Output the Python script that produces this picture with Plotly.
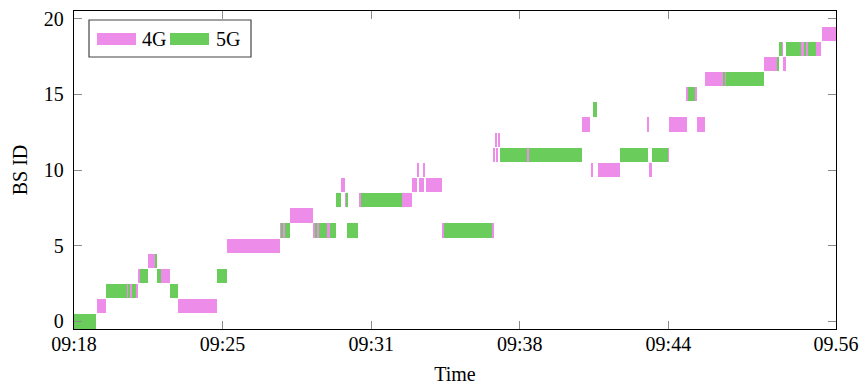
import plotly.graph_objects as go

# ---- data (time in seconds since 09:18, BS ID) ----
lte_bs    = [1, 2, 2, 2, 2, 3, 4, 3, 1, 5, 6, 6, 7, 6, 6, 6, 9, 8, 8, 8, 9, 10, 9, 10, 9, 6,
             6, 11, 12, 11, 12, 11, 13, 10, 10, 13, 10, 11, 13, 15, 15, 13, 16, 16, 17, 18, 17,
             18, 18, 18, 19]
lte_start = [60, 140, 148, 158, 164, 168, 193, 228, 273, 402, 541, 549, 568, 627, 638, 664, 701,
             712, 747, 860, 888, 901, 905, 918, 924, 966, 1098, 1102, 1106, 1110, 1114, 1190,
             1334, 1356, 1376, 1506, 1509, 1559, 1562, 1608, 1629, 1635, 1657, 1707, 1812, 1857,
             1861, 1909, 1922, 1948, 1962]
lte_end   = [83, 143, 151, 160, 168, 173, 215, 251, 376, 541, 545, 553, 626, 633, 643, 671, 712,
             714, 754, 886, 901, 904, 918, 922, 966, 971, 1102, 1106, 1110, 1113, 1118, 1194,
             1355, 1362, 1434, 1509, 1516, 1562, 1608, 1611, 1635, 1657, 1704, 1711, 1845, 1861,
             1869, 1915, 1926, 1961, 2000]

nr_bs    = [0, 2, 2, 2, 2, 3, 4, 3, 2, 3, 6, 6, 6, 6, 6, 8, 8, 6, 8, 6, 11, 11, 14, 11, 11, 15,
            16, 16, 17, 18, 18, 18, 18]
nr_start = [0, 83, 143, 151, 160, 173, 215, 219, 251, 376, 545, 553, 633, 643, 671, 688, 714,
            717, 754, 971, 1118, 1194, 1362, 1434, 1516, 1611, 1704, 1711, 1845, 1852, 1870,
            1915, 1926]
nr_end   = [59, 140, 148, 158, 164, 193, 219, 228, 273, 402, 549, 567, 638, 664, 687, 701, 717,
            746, 860, 1098, 1190, 1333, 1374, 1506, 1559, 1629, 1707, 1811, 1851, 1857, 1909,
            1922, 1948]

tick_vals = [0, 390, 780, 1170, 1560, 2000]
tick_text = ["09:18", "09:25", "09:31", "09:38", "09:44", "09.56"]
y_ticks = [0, 5, 10, 15, 20]

PINK = "#EE8CEA"
GREEN = "#6ACC5A"
FONT = "Liberation Serif"

fig = go.Figure()
for name, bs, st, en, col in [("4G", lte_bs, lte_start, lte_end, PINK),
                              ("5G", nr_bs, nr_start, nr_end, GREEN)]:
    fig.add_trace(go.Bar(
        name=name, orientation="h", y=bs, base=st,
        x=[e - s for s, e in zip(st, en)],
        width=0.95, marker=dict(color=col, line=dict(width=0)),
        showlegend=False,
    ))

axis_common = dict(showline=True, linecolor="black", linewidth=1.3, mirror="ticks",
                   ticks="inside", ticklen=8, tickcolor="#8a8a8a", tickwidth=1.2,
                   showgrid=False, zeroline=False, automargin=False,
                   tickfont=dict(family=FONT, size=20, color="black"))

fig.update_layout(
    width=865, height=386, margin=dict(l=74, r=29, t=11, b=57),
    plot_bgcolor="white", paper_bgcolor="white", barmode="overlay",
    bargap=0, font=dict(family=FONT, size=20, color="black"),
    xaxis=dict(range=[0, 2000], tickvals=tick_vals, ticktext=tick_text,
               ticklabelstandoff=-3,
               title=dict(text="Time", font=dict(family=FONT, size=20), standoff=12),
               **axis_common),
    yaxis=dict(range=[-0.5, 20.5], tickvals=y_ticks, ticklabelstandoff=5,
               title=dict(text="BS ID", font=dict(family=FONT, size=20), standoff=10),
               **axis_common),
)

# manual legend (wide colour swatches, as in the reference)
def px2paper(px, py):
    return (px - 74) / 762, (329 - py) / 318

bx0, by0 = px2paper(89, 57)
bx1, by1 = px2paper(251, 20)
fig.add_shape(type="rect", xref="paper", yref="paper", x0=bx0, y0=by0, x1=bx1, y1=by1,
              line=dict(color="#444", width=1.2), fillcolor="white", layer="above")
for (sx0, sx1, tx, label, col) in [(97, 136, 140, "4G", PINK), (170, 209, 214, "5G", GREEN)]:
    a0, b0 = px2paper(sx0, 45)
    a1, b1 = px2paper(sx1, 33)
    fig.add_shape(type="rect", xref="paper", yref="paper", x0=a0, y0=b0, x1=a1, y1=b1,
                  line=dict(width=0), fillcolor=col, layer="above")
    t0, ty = px2paper(tx, 39)
    fig.add_annotation(xref="paper", yref="paper", x=t0, y=ty, text=label, showarrow=False,
                       xanchor="left", yanchor="middle",
                       font=dict(family=FONT, size=20, color="black"))

fig.write_html("out.html")
